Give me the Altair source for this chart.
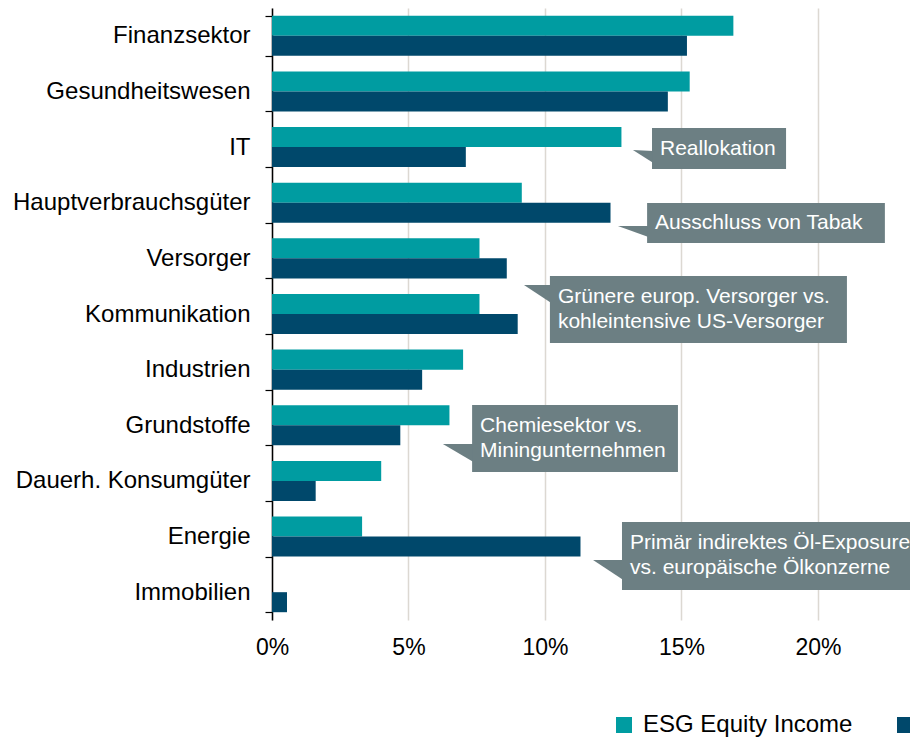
import altair as alt
import pandas as pd

# ---------------- data ----------------
categories = ["Finanzsektor", "Gesundheitswesen", "IT", "Hauptverbrauchsgüter",
              "Versorger", "Kommunikation", "Industrien", "Grundstoffe",
              "Dauerh. Konsumgüter", "Energie", "Immobilien"]
esg_values = [16.9, 15.3, 12.8, 9.15, 7.6, 7.6, 7.0, 6.5, 4.0, 3.3, 0.0]
bench_values = [15.2, 14.5, 7.1, 12.4, 8.6, 9.0, 5.5, 4.7, 1.6, 11.3, 0.55]
series_names = ["ESG Equity Income", "MSCI World"]
x_ticks = [0, 5, 10, 15, 20]

callout_texts = [
    "Reallokation",
    "Ausschluss von Tabak",
    "Grünere europ. Versorger vs.\nkohleintensive US-Versorger",
    "Chemiesektor vs.\nMiningunternehmen",
    "Primär indirektes Öl-Exposure\nvs. europäische Ölkonzerne",
]
# callout geometry in data units (x in %, y in category rows from the top)
box_x0 = [13.92, 13.74, 10.18, 7.33, 12.82]
box_x1 = [18.83, 22.45, 21.06, 14.87, 23.55]
box_y0 = [2.157, 3.505, 4.817, 7.135, 9.238]
box_y1 = [2.894, 4.224, 6.021, 8.339, 10.460]
tip_x = [13.22, 12.67, 9.23, 6.26, 11.76]
tip_y = [2.552, 3.918, 4.978, 7.836, 9.921]
base_y0 = [2.570, 3.918, 4.978, 7.836, 9.921]
base_y1 = [2.786, 4.116, 5.302, 8.160, 10.280]

# ---------------- tables ----------------
bars = pd.DataFrame(
    [{"cat": c, "series": series_names[0], "value": v} for c, v in zip(categories, esg_values)]
    + [{"cat": c, "series": series_names[1], "value": v} for c, v in zip(categories, bench_values)]
)

PLOT_H = 612
ROW_PX = PLOT_H / len(categories)
LINE_H = 25

boxes = pd.DataFrame({"id": range(len(callout_texts)), "text": callout_texts,
                      "x0": box_x0, "x1": box_x1, "y0": box_y0, "y1": box_y1})
nlines = boxes["text"].str.count("\n") + 1
boxes["ym"] = (boxes["y0"] + boxes["y1"]) / 2 - (nlines - 1) * 0.5 * LINE_H / ROW_PX

tri_rows = []
for i in range(len(callout_texts)):
    tri_rows.append({"id": i, "x": tip_x[i], "y": tip_y[i], "y2": tip_y[i]})
    tri_rows.append({"id": i, "x": box_x0[i] + 0.05, "y": base_y0[i], "y2": base_y1[i]})
tris = pd.DataFrame(tri_rows)

FONT = "Liberation Sans"
TEAL = "#009ca1"
DARK = "#00486b"
BOXC = "#6c7f83"
XMAX = 23.37

xscale = alt.Scale(domain=[0, XMAX], nice=False, zero=False)

bar_layer = alt.Chart(bars).mark_bar().encode(
    x=alt.X("value:Q", scale=xscale,
            axis=alt.Axis(values=x_ticks, labelExpr="datum.value + '%'", grid=True,
                          gridColor="#dcd8d2", gridWidth=1.5, domain=False, ticks=False,
                          labelFontSize=23, labelFont=FONT, labelColor="#000",
                          labelPadding=16, labelFlush=False, title=None)),
    y=alt.Y("cat:N", sort=categories,
            scale=alt.Scale(paddingInner=0.28, paddingOuter=0.14),
            axis=alt.Axis(title=None, labelFontSize=24, labelFont=FONT, labelColor="#000",
                          tickBand="extent", tickSize=7, tickColor="#000", tickWidth=1.2,
                          domainColor="#000", domainWidth=1.5, labelPadding=15,
                          labelLimit=400)),
    yOffset=alt.YOffset("series:N", sort=series_names,
                        scale=alt.Scale(paddingInner=0, paddingOuter=0)),
    color=alt.Color("series:N", sort=series_names,
                    scale=alt.Scale(domain=series_names, range=[TEAL, DARK]),
                    legend=alt.Legend(orient="none", legendX=340, legendY=705,
                                      direction="horizontal", title=None,
                                      symbolType="square", symbolSize=256,
                                      symbolStrokeWidth=0, labelFontSize=24,
                                      labelFont=FONT, labelColor="#000",
                                      labelLimit=500, labelOffset=7,
                                      labelExpr="datum.label == 'ESG Equity Income' ? datum.label : ''",
                                      columnPadding=40, padding=0)),
)

yrow = alt.Scale(domain=[0, 11], reverse=True, nice=False, zero=False)

tri_layer = alt.Chart(tris).mark_area(color=BOXC, orient="vertical").encode(
    x=alt.X("x:Q", scale=xscale),
    y=alt.Y("y:Q", scale=yrow, axis=None),
    y2="y2:Q",
    detail="id:N",
)

box_layer = alt.Chart(boxes).mark_rect(color=BOXC).encode(
    x=alt.X("x0:Q", scale=xscale),
    x2="x1:Q",
    y=alt.Y("y0:Q", scale=yrow, axis=None),
    y2="y1:Q",
)

text_layer = alt.Chart(boxes).mark_text(
    align="left", baseline="middle", dx=8, fontSize=21, font=FONT,
    color="white", lineBreak="\n", lineHeight=LINE_H,
).encode(
    x=alt.X("x0:Q", scale=xscale),
    y=alt.Y("ym:Q", scale=yrow, axis=None),
    text="text:N",
)

ann = alt.layer(tri_layer, box_layer, text_layer)

chart = alt.layer(bar_layer, ann).resolve_scale(y="independent").properties(
    width=638, height=PLOT_H,
    padding={"left": 264, "top": 0, "right": 0, "bottom": 117},
    autosize=alt.AutoSizeParams(type="none"),
).configure_view(stroke=None)

chart.save("out.html", embed_options={"renderer": "svg", "actions": False})
